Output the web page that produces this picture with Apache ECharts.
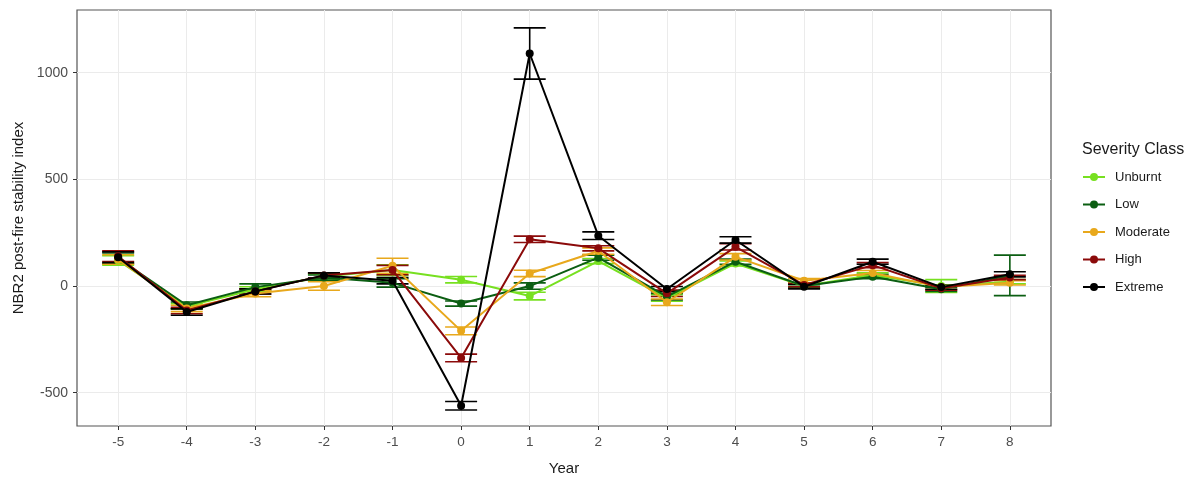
<!DOCTYPE html>
<html>
<head>
<meta charset="utf-8">
<script src="https://cdn.jsdelivr.net/npm/echarts@6/dist/echarts.min.js"></script>
<style>
    html, body { margin: 0; padding: 0; background: #fff; }
    #chart { width: 1201px; height: 482px; }
</style>
</head>
<body>
<div id="chart"></div>
<script>
    // years since fire
    var years = [-5, -4, -3, -2, -1, 0, 1, 2, 3, 4, 5, 6, 7, 8];
    var yTicks = [-500, 0, 500, 1000];
    var classes = ['Unburnt', 'Low', 'Moderate', 'High', 'Extreme'];
    var colors = ['#77e020', '#0b5e12', '#e8a81c', '#8b0a0a', '#000000'];

    // mean stability index per class
    var unburnt  = [120, -95, -15, 45, 75, 30, -47, 117, -56, 106, 0, 52, 0, 20];
    var low      = [130, -90, -5, 40, 15, -82, 0, 133, -50, 114, 0, 44, -15, 50];
    var moderate = [125, -105, -35, 0, 95, -210, 59, 164, -76, 137, 25, 61, -5, 15];
    var high     = [140, -115, -25, 50, 75, -337, 219, 177, -34, 184, 5, 98, -10, 40];
    var extreme  = [135, -122, -25, 50, 25, -561, 1090, 236, -14, 216, -3, 114, -5, 55];

    // half-width of the error bars
    var errUnburnt  = [22, 12, 12, 12, 25, 15, 18, 12, 15, 12, 8, 10, 30, 10];
    var errLow      = [25, 15, 15, 12, 20, 12, 15, 12, 15, 12, 8, 10, 10, 95];
    var errModerate = [22, 15, 15, 20, 35, 18, 15, 15, 15, 15, 10, 12, 10, 10];
    var errHigh     = [25, 15, 12, 12, 22, 18, 15, 12, 15, 15, 8, 12, 10, 10];
    var errExtreme  = [25, 15, 12, 12, 15, 20, 120, 18, 12, 15, 10, 12, 10, 12];

    var means = [unburnt, low, moderate, high, extreme];
    var errs = [errUnburnt, errLow, errModerate, errHigh, errExtreme];

    var font = 'Liberation Sans, Arial, sans-serif';
    // line with a dot, like the ggplot key
    var keyIcon = 'path://M0,3L22,3L22,5L0,5Z M15,4A4,4 0 1 1 7,4A4,4 0 1 1 15,4Z';

    function errorBar(params, api) {
        var x = api.value(0);
        var top = api.coord([x, api.value(2)]);
        var bot = api.coord([x, api.value(1)]);
        var half = 16;
        var st = { stroke: api.visual('color'), lineWidth: 1.6 };
        return {
            type: 'group',
            children: [
                { type: 'line', shape: { x1: top[0], y1: top[1], x2: bot[0], y2: bot[1] }, style: st },
                { type: 'line', shape: { x1: top[0] - half, y1: top[1], x2: top[0] + half, y2: top[1] }, style: st },
                { type: 'line', shape: { x1: bot[0] - half, y1: bot[1], x2: bot[0] + half, y2: bot[1] }, style: st }
            ]
        };
    }

    var series = [];
    for (var i = 0; i < classes.length; i++) {
        var pts = [];
        for (var j = 0; j < years.length; j++) pts.push([years[j], means[i][j]]);
        series.push({
            name: classes[i], type: 'line', data: pts,
            symbol: 'circle', symbolSize: 8,
            itemStyle: { color: colors[i] },
            lineStyle: { color: colors[i], width: 2 },
            z: 3 + i
        });
    }
    for (var i = 0; i < classes.length; i++) {
        var bars = [];
        for (var j = 0; j < years.length; j++) {
            bars.push([years[j], means[i][j] - errs[i][j], means[i][j] + errs[i][j]]);
        }
        series.push({
            name: classes[i], type: 'custom', renderItem: errorBar,
            itemStyle: { color: colors[i] }, data: bars, z: 2
        });
    }

    var chart = echarts.init(document.getElementById('chart'));
    chart.setOption({
        animation: false,
        title: {
            text: 'Severity Class', left: 1077, top: 137,
            textStyle: { fontFamily: font, fontSize: 16, fontWeight: 'normal', color: '#1a1a1a' }
        },
        legend: {
            data: classes.map(function (c, k) { return { name: c, icon: keyIcon, itemStyle: { color: colors[k] } }; }),
            orient: 'vertical', left: 1078, top: 165,
            itemWidth: 22, itemHeight: 8, itemGap: 13.5,
            textStyle: { fontFamily: font, fontSize: 13, color: '#1a1a1a', padding: [0, 0, 0, 5], lineHeight: 14 }
        },
        grid: {
            left: 77, right: 150, top: 10, bottom: 56,
            show: true, borderColor: '#555', borderWidth: 1.2
        },
        xAxis: {
            type: 'value', min: -5.6, max: 8.6,
            name: 'Year', nameLocation: 'middle', nameGap: 35,
            nameTextStyle: { fontFamily: font, fontSize: 15, color: '#1a1a1a' },
            axisLine: { show: false, onZero: false },
            axisTick: { show: true, length: 4, lineStyle: { color: '#333' }, customValues: years },
            axisLabel: { customValues: years, fontFamily: font, fontSize: 13.5, color: '#4d4d4d', margin: 9 },
            splitLine: { show: true, lineStyle: { color: '#ebebeb', width: 1 } }
        },
        yAxis: {
            type: 'value', min: -656, max: 1294,
            name: 'NBR2 post-fire stability index', nameLocation: 'middle', nameGap: 48,
            nameTextStyle: { fontFamily: font, fontSize: 15, color: '#1a1a1a' },
            axisLine: { show: false, onZero: false },
            axisTick: { show: true, length: 4, lineStyle: { color: '#333' }, customValues: yTicks },
            axisLabel: {
                customValues: yTicks, fontFamily: font, fontSize: 14, color: '#4d4d4d', margin: 9,
                formatter: function (v) { return String(v); }
            },
            splitLine: { show: true, lineStyle: { color: '#ebebeb', width: 1 } }
        },
        series: series
    });
</script>
</body>
</html>
